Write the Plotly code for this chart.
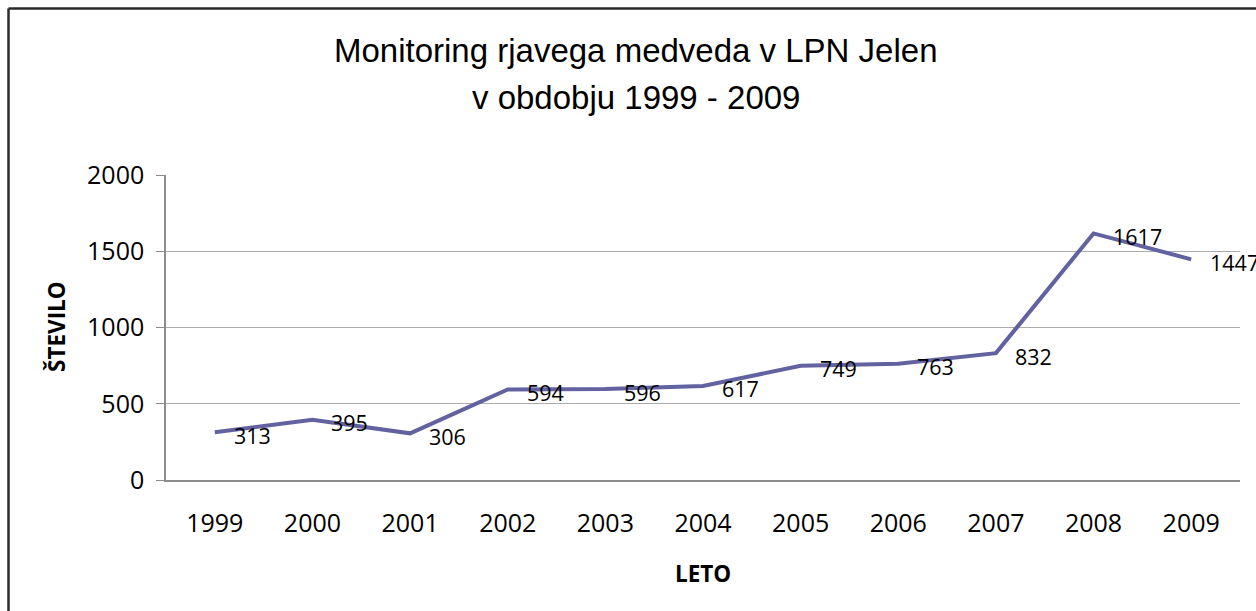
import plotly.graph_objects as go

years = ["1999", "2000", "2001", "2002", "2003", "2004", "2005", "2006", "2007", "2008", "2009"]
counts = [313, 395, 306, 594, 596, 617, 749, 763, 832, 1617, 1447]
y_ticks = [0, 500, 1000, 1500, 2000]

title_line1 = "Monitoring rjavega medveda v LPN Jelen"
title_line2 = "v obdobju 1999 - 2009"
x_title = "LETO"
y_title = "ŠTEVILO"

L, R, T, B = 166, 16, 175, 131
W, H = 1256, 611
pw, ph = W - L - R, H - T - B

def px_x(px):
    return (px - L) / pw

def px_y(py):
    return (H - B - py) / ph

fig = go.Figure()
fig.add_trace(go.Scatter(
    x=years, y=counts, mode="lines",
    line=dict(color="#6262a0", width=4),
    hoverinfo="x+y", showlegend=False,
))

annotations = []
for i, v in enumerate(counts):
    annotations.append(dict(
        x=i, y=v, xref="x", yref="y", text=str(v), showarrow=False,
        xanchor="left", yanchor="middle", xshift=17, yshift=-3,
        font=dict(family="Open Sans", size=21.5, color="#000000"),
    ))

annotations += [
    dict(x=px_x(636), y=px_y(51), xref="paper", yref="paper", text=title_line1,
         showarrow=False, xanchor="center", yanchor="middle",
         font=dict(family="Liberation Sans", size=33, color="#000000")),
    dict(x=px_x(636), y=px_y(97), xref="paper", yref="paper", text=title_line2,
         showarrow=False, xanchor="center", yanchor="middle",
         font=dict(family="Liberation Sans", size=33, color="#000000")),
    dict(x=px_x(703), y=px_y(573), xref="paper", yref="paper", text="<b>" + x_title + "</b>",
         showarrow=False, xanchor="center", yanchor="middle",
         font=dict(family="Open Sans", size=22.5, color="#000000")),
    dict(x=px_x(56), y=px_y(327), xref="paper", yref="paper", text="<b>" + y_title + "</b>",
         showarrow=False, xanchor="center", yanchor="middle", textangle=-90,
         font=dict(family="Open Sans", size=22.5, color="#000000")),
]

shapes = [
    dict(type="line", xref="paper", yref="paper",
         x0=px_x(8.5), x1=px_x(1260), y0=px_y(8.5), y1=px_y(8.5),
         line=dict(color="#2b2b2b", width=2.5)),
    dict(type="line", xref="paper", yref="paper",
         x0=px_x(8.5), x1=px_x(8.5), y0=px_y(8.5), y1=px_y(615),
         line=dict(color="#2b2b2b", width=2.5)),
]

fig.update_layout(
    width=W, height=H,
    margin=dict(l=L, r=R, t=T, b=B),
    paper_bgcolor="white", plot_bgcolor="white",
    annotations=annotations, shapes=shapes,
    showlegend=False,
)
fig.update_xaxes(
    type="category", range=[-0.5, len(years) - 0.5],
    showgrid=False, showline=True, linecolor="#8c8c8c", linewidth=1.5,
    ticks="", ticklabelstandoff=20,
    tickfont=dict(family="Open Sans", size=25, color="#000000"),
)
fig.update_yaxes(
    range=[0, 2000], tickvals=y_ticks, ticktext=[str(t) for t in y_ticks],
    showgrid=True, gridcolor="#ababab", gridwidth=1,
    showline=True, linecolor="#8c8c8c", linewidth=1.5,
    ticks="outside", ticklen=8, tickcolor="#8c8c8c", ticklabelstandoff=7,
    tickfont=dict(family="Open Sans", size=25, color="#000000"),
    zeroline=False,
)

fig.write_html("out.html", config={"displayModeBar": False},
               post_script="document.body.style.margin='0';document.body.style.overflow='hidden';")
